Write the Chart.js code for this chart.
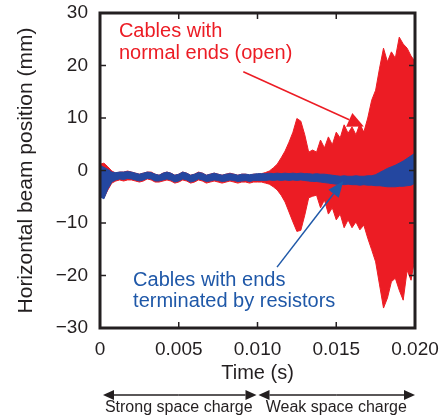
<!DOCTYPE html>
<html>
<head>
<meta charset="utf-8">
<script src="https://cdn.jsdelivr.net/npm/chart.js@4.4.1/dist/chart.umd.min.js"></script>
<style>
  html, body { margin: 0; padding: 0; background: #fff; }
  #wrap { width: 440px; height: 417px; }
</style>
</head>
<body>
<div id="wrap"><canvas id="beamChart" width="440" height="417"></canvas></div>
<script>
// time axis (s)
const timeS = [0, 0.00025, 0.0005, 0.00075, 0.001, 0.00125, 0.0015, 0.00175, 0.002, 0.00225,
  0.0025, 0.00275, 0.003, 0.00325, 0.0035, 0.00375, 0.004, 0.00425, 0.0045, 0.00475,
  0.005, 0.00525, 0.0055, 0.00575, 0.006, 0.00625, 0.0065, 0.00675, 0.007, 0.00725,
  0.0075, 0.00775, 0.008, 0.00825, 0.0085, 0.00875, 0.009, 0.00925, 0.0095, 0.00975,
  0.01, 0.01025, 0.0105, 0.01075, 0.011, 0.01125, 0.0115, 0.01175, 0.012, 0.01225,
  0.0125, 0.01275, 0.013, 0.01325, 0.0135, 0.01375, 0.014, 0.01425, 0.0145, 0.01475,
  0.015, 0.01525, 0.0155, 0.01575, 0.016, 0.01625, 0.0165, 0.01675, 0.017, 0.01725,
  0.0175, 0.01775, 0.018, 0.01825, 0.0185, 0.01875, 0.019, 0.01925, 0.0195, 0.01975, 0.02];

// open-ended cables: upper / lower envelope of the oscillation (mm)
const openUpper = [1.2, 1.4, 0.7, -0.1, -0.5, -0.3, -0.3, -0.1, -0.3, -0.5,
  -0.7, -0.5, -0.3, -0.3, -0.7, -0.9, -0.5, -0.3, -0.5, -0.9,
  -0.7, -0.3, -0.5, -0.9, -0.7, -0.3, -0.5, -0.9, -0.7, -0.5,
  -0.7, -0.9, -0.7, -0.5, -0.7, -0.9, -0.7, -0.7, -0.9, -0.7,
  -0.7, -0.6, -0.4, -0.1, 0.5, 1.2, 2.4, 3.7, 5.4, 7.3,
  9.9, 9.4, 6.8, 3.5, 3.9, 3.5, 5.8, 4.3, 6.4, 4.9,
  7.3, 6.2, 8.7, 7.1, 8.3, 6.8, 8.9, 7.3, 10.0, 13.4,
  15.3, 19.5, 23.3, 20.7, 22.6, 21.4, 25.4, 24.1, 23.3, 21.8, 20.8];
const openLower = [-4.5, -5.2, -3.7, -2.4, -2.0, -1.8, -2.0, -1.8, -1.8, -2.0,
  -2.2, -2.0, -1.6, -1.8, -2.2, -2.2, -2.0, -1.8, -2.0, -2.4,
  -2.2, -1.8, -2.0, -2.4, -2.2, -1.8, -2.0, -2.4, -2.2, -2.0,
  -2.2, -2.4, -2.2, -2.0, -2.2, -2.4, -2.2, -2.2, -2.4, -2.2,
  -2.2, -2.2, -2.4, -2.6, -3.1, -3.7, -4.7, -6.0, -7.9, -9.8,
  -11.6, -11.4, -8.5, -5.2, -4.9, -4.7, -7.1, -5.6, -8.3, -7.1,
  -9.4, -8.3, -10.9, -9.4, -10.9, -9.8, -11.3, -10.4, -12.9, -15.1,
  -17.4, -21.8, -26.2, -24.3, -21.2, -20.5, -22.8, -24.7, -19.0, -20.9, -16.5];

// resistor-terminated cables: upper / lower envelope (mm)
const termUpper = [1.0, 0.6, 0.2, -0.3, -0.4, -0.3, -0.3, -0.2, -0.3, -0.5,
  -0.7, -0.5, -0.3, -0.4, -0.7, -0.9, -0.5, -0.3, -0.5, -0.9,
  -0.7, -0.3, -0.5, -0.9, -0.7, -0.4, -0.5, -0.9, -0.7, -0.5,
  -0.7, -0.9, -0.7, -0.6, -0.7, -0.9, -0.7, -0.7, -0.8, -0.7,
  -0.6, -0.6, -0.6, -0.5, -0.6, -0.5, -0.6, -0.5, -0.6, -0.5,
  -0.6, -0.5, -0.6, -0.6, -0.7, -0.6, -0.7, -0.7, -0.8, -0.9,
  -1.0, -1.1, -1.0, -1.1, -1.1, -1.0, -1.1, -1.1, -1.0, -1.0,
  -0.8, -0.4, 0.0, 0.4, 0.7, 1.0, 1.4, 1.8, 2.3, 2.8, 3.3];
const termLower = [-5.0, -5.4, -3.5, -2.2, -1.8, -1.6, -1.7, -1.5, -1.6, -1.8,
  -2.0, -1.8, -1.5, -1.6, -2.0, -2.0, -1.8, -1.6, -1.8, -2.2,
  -2.0, -1.6, -1.8, -2.2, -2.0, -1.6, -1.8, -2.1, -2.0, -1.8,
  -1.9, -2.1, -2.0, -1.8, -1.9, -2.1, -2.0, -1.9, -2.1, -1.9,
  -1.9, -1.9, -1.9, -1.8, -1.9, -1.8, -1.9, -1.8, -1.9, -1.8,
  -1.9, -1.8, -1.9, -2.0, -2.1, -2.1, -2.2, -2.3, -2.4, -2.5,
  -2.6, -2.6, -2.7, -2.6, -2.7, -2.7, -2.8, -2.7, -2.8, -2.8,
  -2.9, -2.9, -3.0, -3.1, -3.1, -3.1, -3.0, -3.0, -2.9, -2.8, -2.4];

const xTickValues = [0, 0.005, 0.01, 0.015, 0.02];
const yTickValues = [-30, -20, -10, 0, 10, 20, 30];

const RED = '#ec1c24';
const BLUE = '#2447a0';
const BLUE_TXT = '#1f58a8';
const INK = '#231f20';
const FONT = '"Liberation Sans", Arial, Helvetica, sans-serif';

Chart.defaults.font.family = FONT;
Chart.defaults.color = INK;

function pts(ys) {
  return timeS.map((t, i) => ({ x: t, y: ys[i] }));
}

function band(data, color, fill) {
  return {
    data: pts(data),
    borderColor: color,
    backgroundColor: color,
    borderWidth: 1,
    pointRadius: 0,
    tension: 0,
    fill: fill
  };
}

function arrow(ctx, x1, y1, x2, y2, color, len, half, lw) {
  const ang = Math.atan2(y2 - y1, x2 - x1);
  const bx = x2 - len * Math.cos(ang), by = y2 - len * Math.sin(ang);
  ctx.strokeStyle = color;
  ctx.fillStyle = color;
  ctx.lineWidth = lw;
  ctx.beginPath();
  ctx.moveTo(x1, y1);
  ctx.lineTo(bx, by);
  ctx.stroke();
  ctx.beginPath();
  ctx.moveTo(x2, y2);
  ctx.lineTo(bx + half * Math.sin(ang), by - half * Math.cos(ang));
  ctx.lineTo(bx - half * Math.sin(ang), by + half * Math.cos(ang));
  ctx.closePath();
  ctx.fill();
}

// frame, inward ticks, annotations
const framePlugin = {
  id: 'framePlugin',
  afterDraw(chart) {
    const ctx = chart.ctx;
    const a = chart.chartArea;
    const xs = chart.scales.x, ys = chart.scales.y;
    ctx.save();
    ctx.strokeStyle = INK;
    ctx.lineWidth = 1.5;
    ctx.beginPath();
    xTickValues.forEach(v => {
      const px = xs.getPixelForValue(v);
      ctx.moveTo(px, a.bottom); ctx.lineTo(px, a.bottom - 6);
      ctx.moveTo(px, a.top); ctx.lineTo(px, a.top + 6);
    });
    yTickValues.forEach(v => {
      const py = ys.getPixelForValue(v);
      ctx.moveTo(a.left, py); ctx.lineTo(a.left + 6, py);
      ctx.moveTo(a.right, py); ctx.lineTo(a.right - 6, py);
    });
    ctx.stroke();
    ctx.lineWidth = 3;
    ctx.strokeRect(a.left, a.top, a.right - a.left, a.bottom - a.top);

    // annotations inside the plot
    ctx.font = '20px ' + FONT;
    ctx.textAlign = 'left';
    ctx.textBaseline = 'middle';
    ctx.fillStyle = RED;
    ctx.fillText('Cables with', xs.getPixelForValue(0.0012), ys.getPixelForValue(26.4));
    ctx.fillText('normal ends (open)', xs.getPixelForValue(0.0012), ys.getPixelForValue(22.2));
    arrow(ctx, xs.getPixelForValue(0.0091), ys.getPixelForValue(18.8),
      xs.getPixelForValue(0.01675), ys.getPixelForValue(8.4), RED, 16, 7.5, 1.5);

    ctx.fillStyle = BLUE_TXT;
    ctx.fillText('Cables with ends', xs.getPixelForValue(0.0021), ys.getPixelForValue(-20.9));
    ctx.fillText('terminated by resistors', xs.getPixelForValue(0.0021), ys.getPixelForValue(-24.9));
    arrow(ctx, xs.getPixelForValue(0.01124), ys.getPixelForValue(-18.4),
      xs.getPixelForValue(0.01545), ys.getPixelForValue(-2.0), BLUE_TXT, 16, 6.5, 1.5);

    // regime arrows below the axis
    const yArr = a.bottom + 67;
    const x0 = xs.getPixelForValue(0), x1 = xs.getPixelForValue(0.01), x2 = xs.getPixelForValue(0.02);
    const mid1 = (x0 + x1) / 2, mid2 = (x1 + x2) / 2;
    arrow(ctx, mid1, yArr, x0 + 3, yArr, INK, 11, 5, 1.5);
    arrow(ctx, mid1, yArr, x1 - 1, yArr, INK, 11, 5, 1.5);
    arrow(ctx, mid2, yArr, x1 + 1, yArr, INK, 11, 5, 1.5);
    arrow(ctx, mid2, yArr, x2, yArr, INK, 11, 5, 1.5);
    ctx.fillStyle = INK;
    ctx.font = '16px ' + FONT;
    ctx.textAlign = 'center';
    ctx.fillText('Strong space charge', mid1, a.bottom + 80);
    ctx.fillText('Weak space charge', mid2, a.bottom + 80);
    ctx.restore();
  }
};

function noPad(s) {
  s.paddingLeft = 0;
  s.paddingRight = 0;
  s.paddingTop = 0;
  s.paddingBottom = 0;
}

new Chart(document.getElementById('beamChart').getContext('2d'), {
  type: 'line',
  data: {
    datasets: [
      band(termUpper, BLUE, false),
      band(termLower, BLUE, '-1'),
      band(openUpper, RED, false),
      band(openLower, RED, '-1')
    ]
  },
  options: {
    responsive: false,
    animation: false,
    devicePixelRatio: 1,
    layout: { padding: { left: 0, right: 25, top: 13, bottom: 0 } },
    plugins: { legend: { display: false }, tooltip: { enabled: false } },
    scales: {
      x: {
        type: 'linear',
        min: 0,
        max: 0.02,
        grid: { display: false, drawTicks: false },
        border: { display: false },
        ticks: {
          stepSize: 0.005,
          padding: 10,
          maxRotation: 0,
          font: { size: 19 },
          color: INK,
          callback: v => (v === 0 ? '0' : v.toFixed(3))
        },
        title: { display: true, text: 'Time (s)', font: { size: 20 }, color: INK, padding: { top: 0, bottom: 32 } },
        afterFit: s => { s.height = 89; noPad(s); }
      },
      y: {
        min: -30,
        max: 30,
        grid: { display: false, drawTicks: false },
        border: { display: false },
        ticks: {
          stepSize: 10,
          padding: 12,
          font: { size: 19 },
          color: INK,
          callback: v => String(v).replace('-', '\u2212')
        },
        title: { display: true, text: 'Horizontal beam position (mm)', font: { size: 21 }, color: INK, padding: { top: 14, bottom: 0 } },
        afterFit: s => { s.width = 100; noPad(s); }
      }
    }
  },
  plugins: [framePlugin]
});
</script>
</body>
</html>
